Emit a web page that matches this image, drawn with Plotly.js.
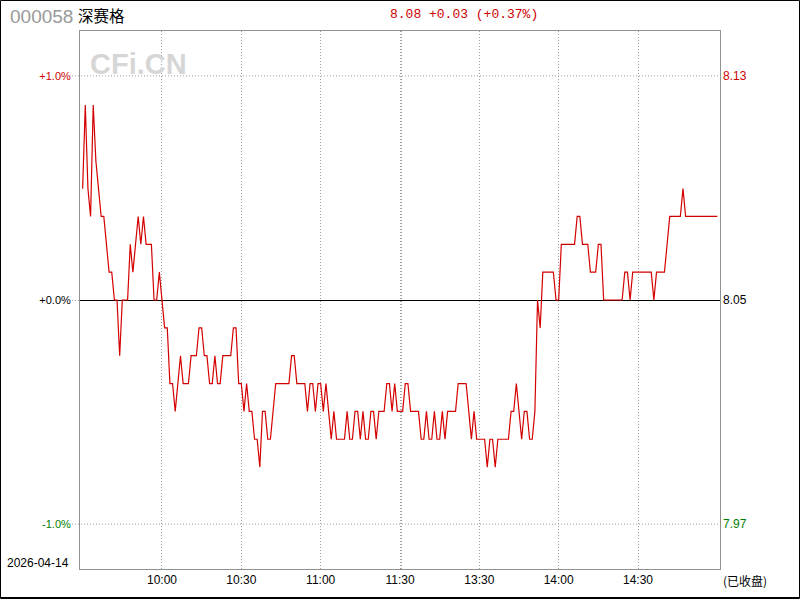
<!DOCTYPE html>
<html>
<head>
<meta charset="utf-8">
<script src="https://cdn.plot.ly/plotly-3.0.1.min.js"></script>
<style>
  html, body { margin: 0; padding: 0; background: #fff; }
  #chart { width: 800px; height: 600px; }
</style>
</head>
<body>
<div id="chart"></div>
<script>
// ---- data ----
const stockCode = '000058';
const stockName = '深赛格';
const tradeDate = '2026-04-14';
const statusText = '(已收盘)';
const prevClose = 8.05;
const lastPrice = 8.08;

// one close per trading minute, 9:30 .. 11:30 then 13:01 .. 15:00
const prices = [
  8.09, 8.12, 8.09, 8.08, 8.12, 8.10, 8.09, 8.08, 8.08, 8.07,
  8.06, 8.06, 8.05, 8.05, 8.03, 8.05, 8.05, 8.05, 8.07, 8.06,
  8.07, 8.08, 8.07, 8.08, 8.07, 8.07, 8.07, 8.05, 8.05, 8.06,
  8.05, 8.04, 8.04, 8.02, 8.02, 8.01, 8.02, 8.03, 8.02, 8.02,
  8.02, 8.03, 8.03, 8.03, 8.04, 8.04, 8.03, 8.03, 8.02, 8.02,
  8.03, 8.02, 8.02, 8.03, 8.03, 8.03, 8.03, 8.04, 8.04, 8.02,
  8.02, 8.01, 8.02, 8.01, 8.01, 8.00, 8.00, 7.99, 8.01, 8.01,
  8.00, 8.00, 8.01, 8.02, 8.02, 8.02, 8.02, 8.02, 8.02, 8.03,
  8.03, 8.02, 8.02, 8.02, 8.02, 8.01, 8.02, 8.02, 8.01, 8.02,
  8.02, 8.01, 8.02, 8.01, 8.00, 8.01, 8.00, 8.00, 8.00, 8.00,
  8.01, 8.00, 8.00, 8.01, 8.01, 8.00, 8.01, 8.00, 8.00, 8.01,
  8.01, 8.00, 8.01, 8.01, 8.01, 8.02, 8.02, 8.01, 8.02, 8.01,
  8.01, 8.01, 8.02, 8.02, 8.01, 8.01, 8.01, 8.01, 8.00, 8.00,
  8.01, 8.00, 8.00, 8.01, 8.00, 8.00, 8.01, 8.00, 8.01, 8.01,
  8.01, 8.01, 8.02, 8.02, 8.02, 8.02, 8.01, 8.00, 8.01, 8.00,
  8.00, 8.00, 8.00, 7.99, 8.00, 8.00, 7.99, 8.00, 8.00, 8.00,
  8.00, 8.00, 8.01, 8.01, 8.02, 8.01, 8.00, 8.01, 8.01, 8.00,
  8.00, 8.01, 8.05, 8.04, 8.06, 8.06, 8.06, 8.06, 8.06, 8.05,
  8.05, 8.07, 8.07, 8.07, 8.07, 8.07, 8.07, 8.08, 8.08, 8.07,
  8.07, 8.07, 8.06, 8.06, 8.06, 8.07, 8.07, 8.05, 8.05, 8.05,
  8.05, 8.05, 8.05, 8.05, 8.05, 8.06, 8.06, 8.05, 8.06, 8.06,
  8.06, 8.06, 8.06, 8.06, 8.06, 8.06, 8.05, 8.06, 8.06, 8.06,
  8.06, 8.07, 8.08, 8.08, 8.08, 8.08, 8.08, 8.09, 8.08, 8.08,
  8.08, 8.08, 8.08, 8.08, 8.08, 8.08, 8.08, 8.08, 8.08, 8.08,
  8.08
];

const xTickVals = [30, 60, 90, 120, 150, 180, 210];
const xTickText = ['10:00', '10:30', '11:00', '11:30', '13:30', '14:00', '14:30'];

const pctLevels = [-1, 0, 1];
const pctLabels = ['-1.0%', '+0.0%', '+1.0%'];
const priceLabels = ['7.97', '8.05', '8.13'];
const levelColors = ['#008000', '#000000', '#cc0000'];

// ---- derived ----
const minutes = prices.map((_, i) => i);
const levelPrices = pctLevels.map(p => prevClose * (1 + p / 100));
const gridPrices = levelPrices.filter((_, i) => pctLevels[i] !== 0);
const change = lastPrice - prevClose;
const changePct = change / prevClose * 100;
const headerText = lastPrice.toFixed(2) + ' ' + (change >= 0 ? '+' : '') + change.toFixed(2) +
  ' (' + (changePct >= 0 ? '+' : '') + changePct.toFixed(2) + '%)';

// pixel helpers for paper coords (plot area 80..720 x 31..569)
const L = 80, R = 720, T = 31, B = 569;
const px = x => (x - L) / (R - L);
const py = y => (B - y) / (B - T);

const yRange = [prevClose * 0.988, prevClose * 1.012];
const halfPixel = (yRange[1] - yRange[0]) / (B - T) / 2;  // for crisp 1px lines

const gridDash = '1px,2px';
const gridColor = '#a0a0a0';

const trace = {
  x: minutes,
  y: prices,
  type: 'scatter',
  mode: 'lines',
  line: { color: '#d40000', width: 1.2 },
  hoverinfo: 'skip'
};

// extra grid tick next to 11:30 (the 13:00 line)
const gridVals = xTickVals.slice();
const gridText = xTickText.slice();
gridVals.splice(4, 0, 120.7);
gridText.splice(4, 0, '');

const zeroY = prevClose - halfPixel;
const shapes = [
  // zero (previous close) line
  { type: 'line', xref: 'paper', yref: 'y', x0: 0, x1: 1, y0: zeroY, y1: zeroY,
    line: { color: '#000000', width: 1 }, layer: 'between' },
  // outer frame
  { type: 'rect', xref: 'paper', yref: 'paper', x0: px(0.5), x1: px(799.5), y0: py(0.5), y1: py(598.5),
    line: { color: '#000000', width: 1 } },
  { type: 'line', xref: 'paper', yref: 'paper', x0: px(0), x1: px(800), y0: py(597.5), y1: py(597.5),
    line: { color: '#000000', width: 1 } }
];
// dotted horizontal grid at +/-1% and short dotted leaders left of the plot
gridPrices.forEach(v => {
  shapes.push({ type: 'line', xref: 'paper', yref: 'y', x0: px(72), x1: 1, y0: v, y1: v,
    line: { color: gridColor, width: 1, dash: gridDash }, layer: 'between' });
});
shapes.push({ type: 'line', xref: 'paper', yref: 'y', x0: px(72), x1: 0, y0: zeroY, y1: zeroY,
  line: { color: gridColor, width: 1, dash: gridDash } });

const annotations = [
  { text: stockCode, xref: 'paper', yref: 'paper', x: px(8), y: py(16), xanchor: 'left', yanchor: 'middle',
    showarrow: false, font: { family: 'Liberation Sans, Arial, sans-serif', size: 19, color: '#999999' } },
  { text: stockName, xref: 'paper', yref: 'paper', x: px(76), y: py(15), xanchor: 'left', yanchor: 'middle',
    showarrow: false, font: { family: 'Noto Sans CJK SC, sans-serif', size: 15.5, color: '#000000' } },
  { text: headerText, xref: 'paper', yref: 'paper', x: px(463.5), y: py(15), xanchor: 'center', yanchor: 'middle',
    showarrow: false, font: { family: 'Liberation Mono, monospace', size: 13, color: '#cc0000' } },
  { text: '<b>CFi.CN</b>', xref: 'paper', yref: 'paper', x: px(138), y: py(64), xanchor: 'center', yanchor: 'middle',
    showarrow: false, font: { family: 'Liberation Sans, Arial, sans-serif', size: 29, color: '#d6d6d6' } },
  { text: tradeDate, xref: 'paper', yref: 'paper', x: px(5), y: py(563), xanchor: 'left', yanchor: 'middle',
    showarrow: false, font: { family: 'Liberation Sans, Arial, sans-serif', size: 12, color: '#000000' } },
  { text: statusText, xref: 'paper', yref: 'paper', x: px(721), y: py(580), xanchor: 'left', yanchor: 'middle',
    showarrow: false, font: { family: 'Noto Sans CJK SC, sans-serif', size: 12, color: '#000000' } }
];
levelPrices.forEach((v, i) => {
  annotations.push({ text: priceLabels[i], xref: 'paper', yref: 'y', x: 1, y: v, xanchor: 'left', yanchor: 'middle',
    xshift: 1, showarrow: false,
    font: { family: 'Liberation Sans, Arial, sans-serif', size: 12, color: levelColors[i] } });
});

const layout = {
  width: 800,
  height: 600,
  margin: { l: L, r: 800 - R, t: T, b: 600 - B, pad: 0 },
  paper_bgcolor: '#ffffff',
  plot_bgcolor: '#ffffff',
  showlegend: false,
  xaxis: {
    range: [-1, prices.length],
    tickmode: 'array',
    tickvals: gridVals,
    ticktext: gridText,
    ticks: '',
    showgrid: true,
    gridcolor: gridColor,
    griddash: gridDash,
    gridwidth: 1,
    zeroline: false,
    showline: true,
    mirror: true,
    linecolor: '#909090',
    linewidth: 1,
    tickfont: { family: 'Liberation Sans, Arial, sans-serif', size: 12, color: '#000000' },
    fixedrange: true
  },
  yaxis: {
    range: yRange,
    tickmode: 'array',
    tickvals: levelPrices,
    ticktext: pctLabels.map((t, i) => '<span style="color:' + levelColors[i] + '">' + t + '</span>'),
    ticks: '',
    ticklabelstandoff: 6,
    showgrid: false,
    zeroline: false,
    showline: true,
    mirror: true,
    linecolor: '#909090',
    linewidth: 1,
    tickfont: { family: 'Liberation Sans, Arial, sans-serif', size: 11, color: '#000000' },
    fixedrange: true
  },
  shapes: shapes,
  annotations: annotations
};

Plotly.newPlot('chart', [trace], layout, { staticPlot: true, displayModeBar: false });
</script>
</body>
</html>
